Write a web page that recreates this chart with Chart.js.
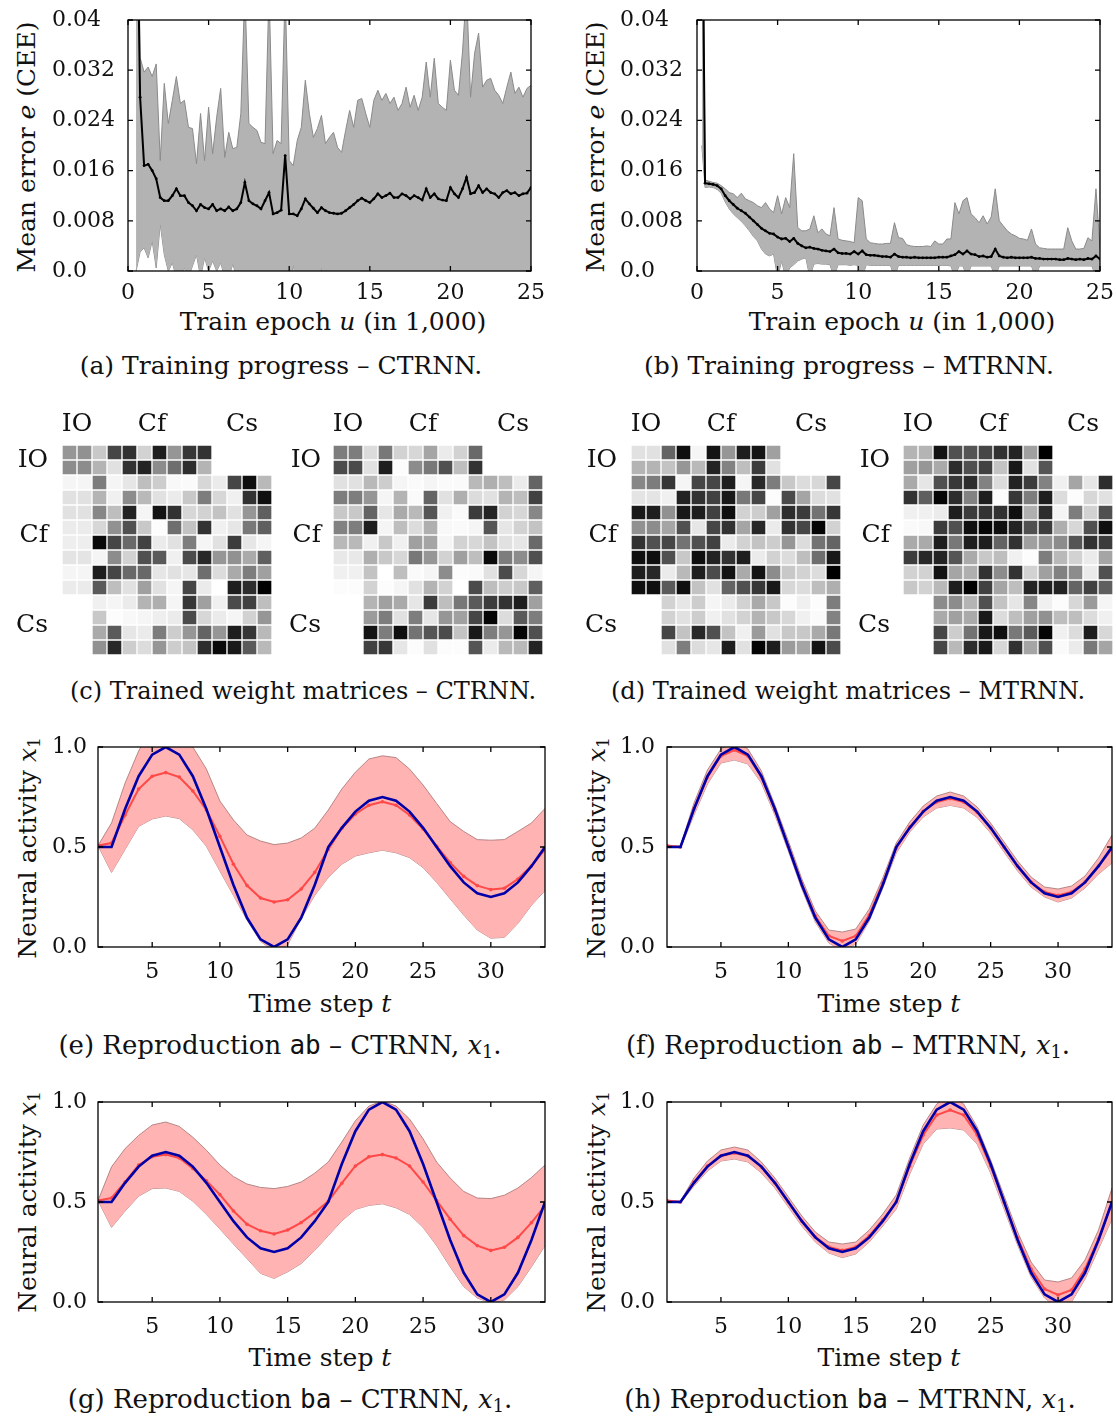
<!DOCTYPE html>
<html><head><meta charset="utf-8">
<script src="https://cdn.jsdelivr.net/npm/chart.js@4.4.1/dist/chart.umd.min.js"></script>
<style>
html,body{margin:0;padding:0;background:#fff;}
body{width:1116px;height:1416px;position:relative;overflow:hidden;font-family:'DejaVu Serif',serif;color:#111;}
canvas{position:absolute;}
.t{position:absolute;white-space:nowrap;font-size:25px;transform:translate(-50%,-50%);line-height:1;}
.r{transform:translate(-50%,-50%) rotate(-90deg);}
.m{font-family:'DejaVu Sans Mono',monospace;}
.c2{font-size:26px;}
sub{font-size:0.68em;vertical-align:-0.25em;line-height:0;font-style:normal;}
</style></head>
<body>
<canvas id="ca" width="493" height="305" style="left:52px;top:0px"></canvas>
<canvas id="cb" width="494" height="305" style="left:620px;top:0px"></canvas>
<canvas id="mc1" width="272" height="260" style="left:0px;top:395px"></canvas>
<canvas id="mc2" width="268" height="260" style="left:275px;top:395px"></canvas>
<canvas id="md1" width="281" height="260" style="left:560px;top:395px"></canvas>
<canvas id="md2" width="263" height="260" style="left:850px;top:395px"></canvas>
<canvas id="ce" width="499" height="254" style="left:52px;top:727px"></canvas>
<canvas id="cf" width="496" height="254" style="left:620px;top:727px"></canvas>
<canvas id="cg" width="499" height="254" style="left:52px;top:1082px"></canvas>
<canvas id="ch" width="496" height="254" style="left:620px;top:1082px"></canvas>

<div class="t r" style="left:26px;top:147px">Mean error <i>e</i> (CEE)</div>
<div class="t r" style="left:595px;top:147px">Mean error <i>e</i> (CEE)</div>
<div class="t" style="left:333px;top:321px">Train epoch <i>u</i> (in 1,000)</div>
<div class="t" style="left:902px;top:321px">Train epoch <i>u</i> (in 1,000)</div>
<div class="t" style="left:281px;top:365px">(a) Training progress – CTRNN.</div>
<div class="t" style="left:849px;top:365px">(b) Training progress – MTRNN.</div>
<div class="t" style="left:303px;top:691px;font-size:24px">(c) Trained weight matrices – CTRNN.</div>
<div class="t" style="left:848px;top:691px;font-size:24px">(d) Trained weight matrices – MTRNN.</div>
<div class="t r" style="left:27px;top:848px">Neural activity <i>x</i><sub>1</sub></div>
<div class="t r" style="left:596px;top:848px">Neural activity <i>x</i><sub>1</sub></div>
<div class="t" style="left:320px;top:1003px">Time step <i>t</i></div>
<div class="t" style="left:889px;top:1003px">Time step <i>t</i></div>
<div class="t c2" style="left:280px;top:1045px">(e) Reproduction <span class="m">ab</span> – CTRNN, <i>x</i><sub>1</sub>.</div>
<div class="t c2" style="left:848px;top:1045px">(f) Reproduction <span class="m">ab</span> – MTRNN, <i>x</i><sub>1</sub>.</div>
<div class="t r" style="left:27px;top:1202px">Neural activity <i>x</i><sub>1</sub></div>
<div class="t r" style="left:596px;top:1202px">Neural activity <i>x</i><sub>1</sub></div>
<div class="t" style="left:320px;top:1357px">Time step <i>t</i></div>
<div class="t" style="left:889px;top:1357px">Time step <i>t</i></div>
<div class="t c2" style="left:290px;top:1399px">(g) Reproduction <span class="m">ba</span> – CTRNN, <i>x</i><sub>1</sub>.</div>
<div class="t c2" style="left:850px;top:1399px">(h) Reproduction <span class="m">ba</span> – MTRNN, <i>x</i><sub>1</sub>.</div>

<script>
// ---------------- DATA ----------------
// training epochs (in 1,000)
const epochs = [0.3, 0.5, 0.75,
 1,1.25,1.5,1.75, 2,2.25,2.5,2.75, 3,3.25,3.5,3.75, 4,4.25,4.5,4.75, 5,5.25,5.5,5.75,
 6,6.25,6.5,6.75, 7,7.25,7.5,7.75, 8,8.25,8.5,8.75, 9,9.25,9.5,9.75, 10,10.25,10.5,10.75,
 11,11.25,11.5,11.75, 12,12.25,12.5,12.75, 13,13.25,13.5,13.75, 14,14.25,14.5,14.75,
 15,15.25,15.5,15.75, 16,16.25,16.5,16.75, 17,17.25,17.5,17.75, 18,18.25,18.5,18.75,
 19,19.25,19.5,19.75, 20,20.25,20.5,20.75, 21,21.25,21.5,21.75, 22,22.25,22.5,22.75,
 23,23.25,23.5,23.75, 24,24.25,24.5,24.75, 25];
const epochTicks = [0, 5, 10, 15, 20, 25];
const errTicks = [0, 0.008, 0.016, 0.024, 0.032, 0.04];
const errTickLabels = ['0.0', '0.008', '0.016', '0.024', '0.032', '0.04'];

const ctrnnErrMean = [null, 0.07, 0.0277,
 0.0168,0.017,0.016,0.0147, 0.0117,0.0112,0.0112,0.012, 0.0131,0.012,0.012,0.0109,
 0.0104,0.0096,0.0106,0.0101, 0.0099,0.0106,0.0096,0.0099, 0.0096,0.0102,0.0096,0.0099,
 0.0109,0.0141,0.0112,0.0107, 0.0104,0.0099,0.0112,0.0125, 0.0091,0.0093,0.0097,0.0184,
 0.0091,0.0091,0.0088,0.0099, 0.0115,0.0107,0.01,0.0093, 0.0101,0.0096,0.0093,0.0092,
 0.0091,0.0092,0.0096,0.0101, 0.0106,0.0112,0.0116,0.0112, 0.0109,0.0115,0.0123,0.0117,
 0.012,0.0124,0.0117,0.0117, 0.0123,0.012,0.0115,0.012, 0.0117,0.0113,0.0131,0.0117,
 0.0123,0.0115,0.0113,0.0112, 0.0133,0.0123,0.0117,0.0131, 0.0149,0.0123,0.0125,0.0136,
 0.0125,0.0131,0.0125,0.0123, 0.0117,0.0125,0.0128,0.0123, 0.0125,0.012,0.0123,0.0124, 0.0133];
const ctrnnErrUpper = [null, 0.09, 0.034,
 0.0317,0.0325,0.031,0.033, 0.0176,0.0299,0.0235,0.0272, 0.031,0.0267,0.0272,0.0229,
 0.0227,0.0171,0.0251,0.0176, 0.0261,0.0187,0.0245,0.0291, 0.0181,0.0221,0.0195,0.0197,
 0.0251,0.045,0.0235,0.0229, 0.0224,0.0205,0.0203,0.045, 0.0187,0.0208,0.0203,0.045,
 0.0176,0.0168,0.0208,0.0229, 0.0304,0.0251,0.0213,0.0227, 0.0248,0.0203,0.0213,0.0221,
 0.0197,0.0189,0.0224,0.0256, 0.0229,0.0272,0.0275,0.0251, 0.0229,0.0272,0.0288,0.0272,
 0.0283,0.0267,0.0277,0.0256, 0.0267,0.0293,0.0261,0.028, 0.0256,0.0277,0.0333,0.0277,
 0.0339,0.0267,0.0261,0.0256, 0.0336,0.0288,0.028,0.0349, 0.045,0.0277,0.0347,0.0379,
 0.0293,0.0304,0.0307,0.0288, 0.028,0.0267,0.0293,0.0317, 0.0283,0.0293,0.0277,0.0291, 0.0296];
const ctrnnErrLower = [null, 0.0, 0.003,
 0.0037,0.0021,0.0048,0.0005, 0.0075,0.0026,0.0,0.0013, -0.001,-0.001,0.0005,-0.001,
 0.0008,0.0026,-0.001,0.0021, 0.0,0.0016,0.0,0.0013, -0.001,-0.001,0.0011,-0.001,
 -0.002,-0.002,-0.002,-0.002, -0.003,-0.003,-0.003,-0.003, -0.003,-0.003,-0.003,-0.003,
 -0.003,0.001,-0.003,-0.003, -0.003,-0.003,-0.003,-0.003, 0.0005,-0.003,-0.003,-0.003,
 -0.003,-0.003,-0.003,-0.003, -0.003,-0.003,-0.003,-0.003, -0.003,-0.003,-0.003,-0.003,
 -0.003,-0.003,-0.003,-0.003, -0.003,-0.003,-0.003,-0.003, -0.003,-0.003,-0.003,-0.003,
 -0.003,-0.003,-0.003,-0.003, -0.003,-0.003,-0.003,-0.003, -0.003,-0.003,-0.003,-0.003,
 -0.003,-0.003,-0.003,-0.003, -0.003,-0.003,-0.003,-0.003, -0.003,-0.003,-0.003,-0.003, -0.003];

const mtrnnErrMean = [0.07, 0.014, 0.0139,
 0.0138,0.0136,0.0131,0.012, 0.0112,0.0106,0.01,0.0096, 0.0092,0.0086,0.008,0.0074,
 0.0068,0.0064,0.006,0.0059, 0.0054,0.0051,0.0052,0.0047, 0.0052,0.0044,0.004,0.0037,
 0.0038,0.0036,0.0035,0.0033, 0.0032,0.0031,0.0035,0.0029, 0.0028,0.0028,0.0027,0.0031,
 0.0027,0.0032,0.0026,0.0025, 0.0025,0.0024,0.0023,0.0023, 0.0022,0.0027,0.0023,0.0022,
 0.0022,0.0021,0.0022,0.0021, 0.0021,0.0021,0.0021,0.0021, 0.0022,0.0022,0.0022,0.0024,
 0.0026,0.0031,0.0027,0.0032, 0.0027,0.0026,0.0023,0.0024, 0.0022,0.0023,0.0035,0.0024,
 0.0022,0.0021,0.0022,0.0021, 0.0021,0.0021,0.0021,0.0022, 0.002,0.002,0.0019,0.0019,
 0.0019,0.0019,0.0018,0.0018, 0.002,0.0019,0.0018,0.0019, 0.0018,0.002,0.0019,0.0024, 0.0019];
const mtrnnErrUpper = [0.09, 0.0145, 0.0143,
 0.0141,0.014,0.0136,0.0131, 0.0125,0.0123,0.0117,0.0124, 0.0115,0.0112,0.0109,0.0104,
 0.0101,0.0109,0.0099,0.0093, 0.012,0.0091,0.0117,0.0101, 0.0187,0.0069,0.0064,0.0064,
 0.0067,0.0088,0.0061,0.0067, 0.0059,0.0056,0.0101,0.0051, 0.0049,0.0048,0.0047,0.0045,
 0.0117,0.0112,0.0051,0.0045, 0.0044,0.0043,0.0043,0.0044, 0.0044,0.0077,0.0053,0.0052,
 0.0042,0.004,0.0039,0.0039, 0.0039,0.004,0.0039,0.0048, 0.0043,0.0043,0.0051,0.0051,
 0.0109,0.0091,0.0112,0.0117, 0.0091,0.0085,0.0077,0.0088, 0.0075,0.0086,0.0131,0.008,
 0.0072,0.0064,0.0059,0.0056, 0.0052,0.0051,0.0049,0.0067, 0.0043,0.0037,0.0036,0.0035,
 0.0035,0.0035,0.0035,0.0035, 0.0069,0.0048,0.0035,0.0035, 0.0036,0.0053,0.0048,0.0131, 0.0037];
const mtrnnErrLower = [0.02, 0.0133, 0.0134,
 0.0133,0.013,0.0124,0.011, 0.0099,0.0091,0.0085,0.0079, 0.0072,0.0064,0.0055,0.0048,
 0.0035,0.0027,0.0024,0.0027, -0.001,0.0016,-0.001,0.0005, 0.001,0.0016,0.0019,0.0021,
 -0.001,0.0011,0.0012,0.0011, 0.0011,0.001,-0.001,0.001, 0.001,0.001,0.0009,0.001,
 0.0009,-0.001,0.001,0.0009, 0.0009,0.0009,0.0009,0.0009, 0.0009,-0.001,0.0009,0.0009,
 0.0009,0.0009,0.0009,0.0009, 0.0009,0.0009,0.0009,0.0009, 0.0009,0.0009,0.0009,0.0008,
 -0.001,0.0008,0.0008,-0.001, 0.0008,0.0008,0.0008,0.0008, 0.0008,0.0008,-0.001,0.0008,
 0.0008,0.0008,0.0008,0.0008, 0.0008,0.0008,0.0008,0.0008, -0.001,0.0008,0.0008,0.0008,
 0.0008,0.0008,0.0008,0.0008, 0.0008,0.0008,0.0008,0.0008, 0.0008,0.0008,0.0008,-0.001, 0.0008];

// weight matrices (grey level of |w|, 0 = black/strong, 255 = white/zero), rows/cols: IO(2) Cf(8) Cs(4)
const groupNames = ['IO', 'Cf', 'Cs'];
const units = ['1','2','3','4','5','6','7','8','9','10','11','12','13','14'];
const W_CTRNN_1 = [
 [150,145,200,70,50,210,30,150,55,50,null,null,null,null],
 [140,140,180,225,50,35,140,110,45,180,null,null,null,null],
 [245,245,125,245,230,190,205,248,250,215,235,70,15,185],
 [225,225,180,240,140,185,225,235,200,125,215,240,50,15],
 [225,225,135,190,35,245,20,50,215,210,195,225,150,95],
 [235,235,215,145,80,200,252,110,195,50,240,230,120,95],
 [238,238,10,70,105,65,235,225,125,245,225,60,230,245],
 [228,228,245,140,210,80,90,240,75,40,150,145,170,95],
 [245,245,30,70,105,105,230,225,230,110,220,170,125,160],
 [235,235,90,190,225,160,225,245,70,235,255,30,45,0],
 [null,null,240,245,235,180,175,245,55,160,240,75,65,190],
 [null,null,200,252,248,245,238,235,75,215,235,245,210,150],
 [null,null,170,90,230,235,125,205,150,100,150,30,55,185],
 [null,null,145,40,205,220,150,205,195,45,10,25,90,185]];
const W_CTRNN_2 = [
 [125,125,220,120,210,215,165,235,210,105,null,null,null,null],
 [75,75,225,30,252,140,120,80,190,50,null,null,null,null],
 [225,225,185,205,245,250,245,250,250,185,175,190,235,100],
 [125,125,150,245,180,250,100,225,175,220,225,180,190,65],
 [200,200,100,230,170,185,85,240,250,60,35,210,215,135],
 [130,125,30,245,190,220,175,248,250,245,85,230,210,195],
 [185,185,240,200,240,160,165,245,210,215,195,225,230,105],
 [232,232,175,200,215,120,150,210,160,190,10,125,140,80],
 [240,240,195,255,190,250,245,140,252,250,225,75,215,245],
 [252,252,210,252,245,225,180,210,255,75,190,205,200,95],
 [null,null,180,160,170,230,60,190,120,90,60,50,30,160],
 [null,null,155,125,225,125,230,150,160,70,5,220,90,125],
 [null,null,20,125,15,115,85,75,195,25,125,150,5,80],
 [null,null,65,55,230,252,225,252,252,85,235,185,185,35]];
const W_MTRNN_1 = [
 [225,225,100,15,245,20,150,30,20,160,null,null,null,null],
 [180,180,195,150,185,35,130,190,60,225,null,null,null,null],
 [135,125,55,245,70,70,30,245,40,125,200,220,215,70],
 [228,228,240,35,50,65,25,120,70,252,75,165,220,225],
 [25,30,145,25,30,65,15,210,205,160,45,60,115,55],
 [145,140,165,80,230,70,50,165,40,235,50,70,5,210],
 [50,80,70,115,80,65,235,210,195,205,150,220,115,100],
 [15,15,80,200,15,35,50,30,235,210,220,190,110,25],
 [30,40,235,185,30,75,20,170,20,140,200,210,220,0],
 [15,15,90,15,195,225,100,80,55,25,215,220,190,175],
 [null,null,210,230,205,245,235,210,170,200,252,240,252,125],
 [null,null,210,225,205,240,225,210,180,200,215,240,250,130],
 [null,null,70,195,40,80,195,240,155,225,200,200,170,120],
 [null,null,225,125,220,230,30,225,5,30,155,165,20,75]];
const W_MTRNN_2 = [
 [180,180,20,80,85,70,50,35,160,0,null,null,null,null],
 [160,150,170,45,80,65,195,25,225,85,null,null,null,null],
 [170,230,80,55,45,130,220,35,60,130,240,165,230,45],
 [50,95,5,45,130,30,252,55,125,30,220,252,215,225],
 [240,240,235,30,60,50,50,15,175,45,245,125,210,80],
 [250,248,60,80,15,5,15,35,80,60,175,215,80,15],
 [170,170,30,120,30,30,100,50,160,150,140,85,50,60],
 [60,40,35,85,170,200,190,240,252,125,185,210,235,165],
 [210,210,20,165,175,50,140,50,210,160,130,140,235,80],
 [200,210,185,30,0,65,165,190,35,30,35,100,65,95],
 [null,null,140,140,180,80,195,230,135,240,252,215,155,245],
 [null,null,170,160,170,25,220,190,160,145,190,190,220,240],
 [null,null,70,205,115,25,15,120,90,5,240,220,30,215],
 [null,null,70,185,45,25,215,50,165,80,250,235,120,165]];

// reproduction (time steps 1..34)
const timeSteps = [1,2,3,4,5,6,7,8,9,10,11,12,13,14,15,16,17,18,19,20,21,22,23,24,25,26,27,28,29,30,31,32,33,34];
const timeTicks = [5, 10, 15, 20, 25, 30];
const actTicks = [0, 0.5, 1];
const actTickLabels = ['0.0', '0.5', '1.0'];
const targetAB = [0.5,0.5,0.69,0.854,0.962,1.0,0.962,0.854,0.69,0.5,0.31,0.146,0.038,0.0,0.038,0.146,0.31,0.5,0.596,0.677,0.731,0.75,0.731,0.677,0.596,0.5,0.404,0.323,0.269,0.25,0.269,0.323,0.404,0.5];
const targetBA = [0.5,0.5,0.596,0.677,0.731,0.75,0.731,0.677,0.596,0.5,0.404,0.323,0.269,0.25,0.269,0.323,0.404,0.5,0.69,0.854,0.962,1.0,0.962,0.854,0.69,0.5,0.31,0.146,0.038,0.0,0.038,0.146,0.31,0.5];
const ctrnnAbMean = [0.507,0.52,0.66,0.79,0.854,0.872,0.85,0.78,0.685,0.553,0.414,0.307,0.245,0.225,0.236,0.29,0.373,0.488,0.594,0.665,0.709,0.726,0.709,0.66,0.59,0.504,0.422,0.353,0.307,0.287,0.294,0.34,0.405,0.488];
const ctrnnAbUpper = [0.507,0.62,0.82,0.98,1.1,1.13,1.1,1.0,0.89,0.73,0.635,0.56,0.53,0.512,0.52,0.545,0.594,0.685,0.79,0.874,0.94,0.956,0.947,0.89,0.81,0.718,0.627,0.578,0.537,0.534,0.537,0.578,0.62,0.693];
const ctrnnAbLower = [0.507,0.373,0.488,0.603,0.64,0.655,0.642,0.586,0.504,0.38,0.258,0.135,0.028,-0.02,0.01,0.143,0.258,0.348,0.414,0.455,0.471,0.484,0.471,0.447,0.397,0.323,0.241,0.16,0.085,0.044,0.048,0.118,0.209,0.282];
const ctrnnBaMean = [0.507,0.52,0.6,0.685,0.726,0.737,0.72,0.668,0.606,0.537,0.455,0.389,0.356,0.34,0.36,0.397,0.447,0.504,0.594,0.68,0.726,0.737,0.72,0.68,0.6,0.507,0.414,0.332,0.282,0.258,0.274,0.323,0.397,0.48];
const ctrnnBaUpper = [0.507,0.676,0.767,0.833,0.885,0.9,0.878,0.824,0.759,0.685,0.627,0.59,0.573,0.567,0.578,0.6,0.644,0.7,0.8,0.906,0.98,1.005,0.98,0.915,0.816,0.7,0.62,0.553,0.52,0.517,0.534,0.57,0.622,0.685];
const ctrnnBaLower = [0.507,0.373,0.455,0.529,0.567,0.57,0.553,0.504,0.438,0.365,0.29,0.217,0.143,0.118,0.151,0.192,0.258,0.332,0.406,0.463,0.483,0.491,0.471,0.438,0.373,0.282,0.176,0.077,0.02,-0.005,0.01,0.077,0.176,0.282];
const mtrnnAbMean = [0.507,0.5,0.69,0.85,0.955,0.985,0.955,0.85,0.685,0.505,0.315,0.155,0.055,0.03,0.055,0.16,0.32,0.495,0.6,0.678,0.725,0.742,0.725,0.674,0.595,0.5,0.405,0.325,0.275,0.258,0.275,0.325,0.405,0.49];
const mtrnnAbUpper = [0.507,0.505,0.72,0.885,0.99,1.03,0.99,0.88,0.71,0.53,0.34,0.18,0.085,0.075,0.09,0.19,0.345,0.52,0.625,0.705,0.755,0.775,0.755,0.7,0.62,0.525,0.43,0.35,0.3,0.29,0.305,0.355,0.445,0.56];
const mtrnnAbLower = [0.507,0.495,0.66,0.815,0.92,0.935,0.915,0.82,0.66,0.48,0.29,0.125,0.02,-0.02,0.015,0.13,0.295,0.47,0.575,0.65,0.695,0.708,0.695,0.648,0.57,0.475,0.38,0.3,0.25,0.225,0.245,0.295,0.365,0.42];
const mtrnnBaMean = [0.507,0.5,0.6,0.68,0.73,0.745,0.73,0.675,0.595,0.5,0.405,0.325,0.275,0.258,0.275,0.33,0.41,0.5,0.68,0.835,0.935,0.96,0.935,0.835,0.68,0.5,0.32,0.165,0.065,0.035,0.06,0.165,0.315,0.495];
const mtrnnBaUpper = [0.507,0.505,0.62,0.705,0.76,0.775,0.76,0.7,0.62,0.525,0.43,0.35,0.3,0.29,0.3,0.36,0.44,0.535,0.72,0.885,0.99,1.04,0.99,0.875,0.71,0.53,0.35,0.2,0.11,0.1,0.12,0.21,0.36,0.57];
const mtrnnBaLower = [0.507,0.495,0.58,0.655,0.705,0.715,0.7,0.645,0.57,0.475,0.38,0.3,0.245,0.222,0.24,0.3,0.38,0.465,0.64,0.79,0.865,0.87,0.86,0.79,0.645,0.465,0.285,0.125,0.02,-0.03,0.0,0.115,0.265,0.415];

// ---------------- RENDERING ----------------
Chart.defaults.font.family = "'DejaVu Serif', serif";
Chart.defaults.font.size = 22;
Chart.defaults.color = '#111';

const frameTicks = {
  id: 'frameTicks',
  afterDatasetsDraw(chart, args, o) {
    if (!o || !o.enabled) return;
    const ctx = chart.ctx, a = chart.chartArea, xs = chart.scales.x, ys = chart.scales.y;
    ctx.save();
    ctx.strokeStyle = '#000';
    ctx.lineWidth = 1.3;
    ctx.beginPath();
    xs.ticks.forEach(t => {
      const p = xs.getPixelForValue(t.value);
      ctx.moveTo(p, a.bottom); ctx.lineTo(p, a.bottom - o.len);
      ctx.moveTo(p, a.top); ctx.lineTo(p, a.top + o.len);
    });
    ys.ticks.forEach(t => {
      const p = ys.getPixelForValue(t.value);
      ctx.moveTo(a.left, p); ctx.lineTo(a.left + o.len, p);
      ctx.moveTo(a.right, p); ctx.lineTo(a.right - o.len, p);
    });
    ctx.stroke();
    ctx.strokeRect(a.left, a.top, a.right - a.left, a.bottom - a.top);
    ctx.restore();
  }
};
Chart.register(frameTicks);

function xy(xs, ys) { return xs.map((x, i) => ({ x: x, y: ys[i] })); }
// fixed axis sizes, no automatic label-overflow padding
function fixH(h) { return s => { s.height = h; s.paddingLeft = 0; s.paddingRight = 0; s.paddingTop = 0; s.paddingBottom = 0; }; }
function fixW(w) { return s => { s.width = w; s.paddingLeft = 0; s.paddingRight = 0; s.paddingTop = 0; s.paddingBottom = 0; }; }

function trainChart(id, mean, upper, lower, yW) {
  new Chart(document.getElementById(id), {
    type: 'line',
    data: { datasets: [
      { data: xy(epochs, lower), order: 3, borderColor: '#8a8a8a', borderWidth: 1, pointRadius: 0, fill: false, tension: 0 },
      { data: xy(epochs, upper), order: 2, borderColor: '#8a8a8a', borderWidth: 1, pointRadius: 0, fill: '-1', backgroundColor: '#b3b3b3', tension: 0 },
      { data: xy(epochs, mean), order: 1, borderColor: '#000', borderWidth: 2, pointRadius: 1.4, pointBorderWidth: 0, pointBackgroundColor: '#000', fill: false, tension: 0 }
    ]},
    options: {
      responsive: false, animation: false,
      layout: { padding: { top: 20, right: 14, left: 0, bottom: 0 } },
      plugins: { legend: { display: false }, tooltip: { enabled: false }, frameTicks: { enabled: true, len: 5 } },
      scales: {
        x: { type: 'linear', min: 0, max: 25, grid: { display: false, drawTicks: false }, border: { display: false },
             afterBuildTicks: s => { s.ticks = epochTicks.map(v => ({ value: v })); },
             ticks: { padding: 9, maxRotation: 0, autoSkip: false, callback: v => String(v) },
             afterFit: fixH(34) },
        y: { type: 'linear', min: 0, max: 0.04, grid: { display: false, drawTicks: false }, border: { display: false },
             afterBuildTicks: s => { s.ticks = errTicks.map(v => ({ value: v })); },
             ticks: { crossAlign: 'far', padding: 0, autoSkip: false, callback: (v, i) => errTickLabels[i] },
             afterFit: fixW(yW) }
      }
    }
  });
}

function reproChart(id, target, mean, upper, lower, yW, padR) {
  new Chart(document.getElementById(id), {
    type: 'line',
    data: { datasets: [
      { data: xy(timeSteps, lower), order: 4, borderColor: 'rgba(170,120,120,0.85)', borderWidth: 1, pointRadius: 0, fill: false, tension: 0 },
      { data: xy(timeSteps, upper), order: 3, borderColor: 'rgba(170,120,120,0.85)', borderWidth: 1, pointRadius: 0, fill: '-1', backgroundColor: '#ffb3b3', tension: 0 },
      { data: xy(timeSteps, mean), order: 2, borderColor: '#ff4848', borderWidth: 2, pointRadius: 1.8, pointBorderWidth: 0, pointBackgroundColor: '#ff4848', fill: false, tension: 0 },
      { data: xy(timeSteps, target), order: 1, borderColor: '#0000a8', borderWidth: 2.6, pointRadius: 0, fill: false, tension: 0 }
    ]},
    options: {
      responsive: false, animation: false,
      layout: { padding: { top: 20, right: padR, left: 0, bottom: 0 } },
      plugins: { legend: { display: false }, tooltip: { enabled: false }, frameTicks: { enabled: true, len: 5 } },
      scales: {
        x: { type: 'linear', min: 1, max: 34, grid: { display: false, drawTicks: false }, border: { display: false },
             afterBuildTicks: s => { s.ticks = timeTicks.map(v => ({ value: v })); },
             ticks: { padding: 12, maxRotation: 0, autoSkip: false, callback: v => String(v) },
             afterFit: fixH(34) },
        y: { type: 'linear', min: 0, max: 1, grid: { display: false, drawTicks: false }, border: { display: false },
             afterBuildTicks: s => { s.ticks = actTicks.map(v => ({ value: v })); },
             ticks: { crossAlign: 'far', padding: 0, autoSkip: false, callback: (v, i) => actTickLabels[i] },
             afterFit: fixW(yW) }
      }
    }
  });
}

function matrixChart(id, W, yW, yPad) {
  const datasets = W.map((row, r) => ({
    data: row.map(v => v === null ? null : [r, r + 1]),
    backgroundColor: row.map(v => v === null ? 'rgba(0,0,0,0)' : 'rgb(' + v + ',' + v + ',' + v + ')'),
    borderColor: '#ffffff', borderWidth: 1, borderSkipped: false,
    barPercentage: 1, categoryPercentage: 1, grouped: false
  }));
  new Chart(document.getElementById(id), {
    type: 'bar',
    data: { labels: units, datasets: datasets },
    options: {
      responsive: false, animation: false,
      layout: { padding: 0 },
      plugins: { legend: { display: false }, tooltip: { enabled: false }, frameTicks: { enabled: false } },
      scales: {
        x: { type: 'category', display: false },
        xg: { type: 'linear', position: 'top', offset: false, min: -0.5, max: 13.5, grid: { display: false, drawTicks: false, offset: false }, border: { display: false },
              afterBuildTicks: s => { s.ticks = [0.5, 5.5, 11.5].map(v => ({ value: v })); },
              ticks: { padding: 6, maxRotation: 0, autoSkip: false, font: { size: 25 }, callback: (v, i) => groupNames[i] },
              afterFit: fixH(50) },
        y: { type: 'linear', reverse: true, min: 0, max: 14, grid: { display: false, drawTicks: false }, border: { display: false },
             afterBuildTicks: s => { s.ticks = [1, 6, 12].map(v => ({ value: v })); },
             ticks: { padding: yPad, autoSkip: false, font: { size: 25 }, callback: (v, i) => groupNames[i] },
             afterFit: fixW(yW) }
      }
    }
  });
}

trainChart('ca', ctrnnErrMean, ctrnnErrUpper, ctrnnErrLower, 76);
trainChart('cb', mtrnnErrMean, mtrnnErrUpper, mtrnnErrLower, 77);
matrixChart('mc1', W_CTRNN_1, 62, 14);
matrixChart('mc2', W_CTRNN_2, 58, 12);
matrixChart('md1', W_MTRNN_1, 71, 14);
matrixChart('md2', W_MTRNN_2, 53, 13);
reproChart('ce', targetAB, ctrnnAbMean, ctrnnAbUpper, ctrnnAbLower, 46, 6);
reproChart('cf', targetAB, mtrnnAbMean, mtrnnAbUpper, mtrnnAbLower, 47, 2);
reproChart('cg', targetBA, ctrnnBaMean, ctrnnBaUpper, ctrnnBaLower, 46, 6);
reproChart('ch', targetBA, mtrnnBaMean, mtrnnBaUpper, mtrnnBaLower, 47, 2);
</script>
</body></html>
